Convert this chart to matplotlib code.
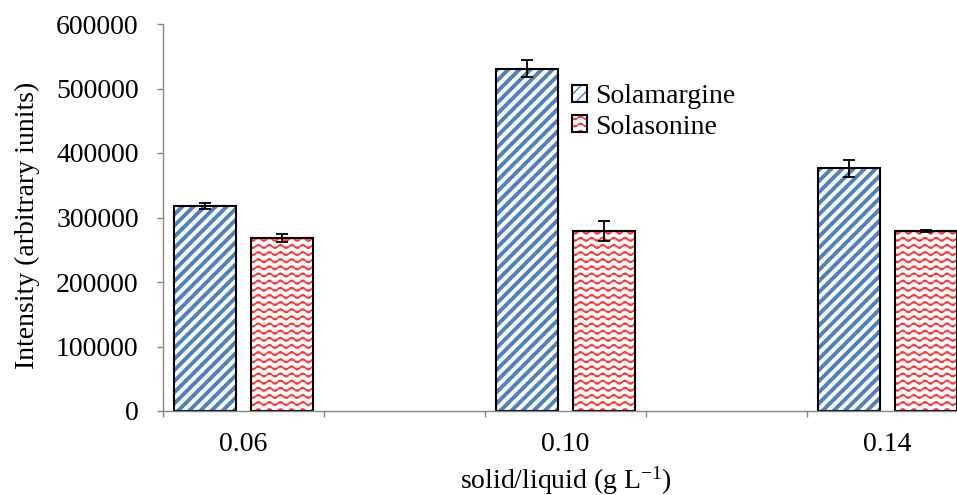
import warnings

import numpy as np
import matplotlib
matplotlib.use("Agg")
import matplotlib.pyplot as plt
from matplotlib import hatch as mhatch
from matplotlib.path import Path
from matplotlib.legend_handler import HandlerTuple

warnings.filterwarnings("ignore")

# data
conc = np.array([0.06, 0.10, 0.14])
conc_labels = ["0.06", "0.10", "0.14"]
solamargine = np.array([318000, 531000, 376000])
solamargine_err = np.array([4500, 13000, 13000])
solasonine = np.array([268500, 279000, 279000])
solasonine_err = np.array([6000, 16000, 2000])


class ExcelHatch(mhatch.HatchPatternBase):
    """'d' = Excel wide upward diagonal, 'w' = Excel wave pattern."""

    def __init__(self, hatch, density):
        self.diag = "d" in hatch
        self.wave = "w" in hatch
        self.n_diag = 9
        self.n_rows = 14
        self.n_waves = 9
        self.n_pts = self.n_waves * 8 + 1
        self.num_vertices = 0
        if self.diag:
            self.num_vertices += 2 * (2 * self.n_diag + 1)
        if self.wave:
            self.num_vertices += self.n_rows * self.n_pts

    def set_vertices_and_codes(self, vertices, codes):
        i = 0
        if self.diag:
            for k in range(-self.n_diag, self.n_diag + 1):
                c = k / self.n_diag
                vertices[i] = (0.0, c)
                vertices[i + 1] = (1.0, 1.0 + c)
                codes[i] = Path.MOVETO
                codes[i + 1] = Path.LINETO
                i += 2
        if self.wave:
            x = np.linspace(0, 1, self.n_pts)
            for r in range(self.n_rows):
                y = (r + 0.5) / self.n_rows + 0.018 * np.sin(2 * np.pi * self.n_waves * x)
                vertices[i:i + self.n_pts, 0] = x
                vertices[i:i + self.n_pts, 1] = y
                codes[i] = Path.MOVETO
                codes[i + 1:i + self.n_pts] = Path.LINETO
                i += self.n_pts


mhatch._hatch_types.append(ExcelHatch)

plt.rcParams["font.family"] = "Liberation Serif"
plt.rcParams["mathtext.fontset"] = "custom"
plt.rcParams["mathtext.rm"] = "Liberation Serif"
plt.rcParams["mathtext.it"] = "Liberation Serif:italic"
plt.rcParams["font.size"] = 20

blue = "#4f81bd"
red = "#ff3838"
gray = "#868686"

fig = plt.figure(figsize=(9.57, 4.95), dpi=100)
ax = fig.add_axes([163 / 957, 84 / 495, 805 / 957, 387 / 495])

w = 0.0077
off = 0.00484
err_kw = dict(ecolor="black", elinewidth=1.3, capthick=1.3)


def hatched(xs, ys, color, pattern, lw):
    bars = ax.bar(xs, ys, w, color="white", edgecolor=color, hatch=pattern, linewidth=0)
    for p in bars:
        if hasattr(p, "set_hatch_linewidth"):
            p.set_hatch_linewidth(lw)
    return bars


with plt.rc_context({"hatch.linewidth": 2.8}):
    h1 = hatched(conc - off, solamargine, blue, "d", 2.8)
with plt.rc_context({"hatch.linewidth": 1.2}):
    h2 = hatched(conc + off, solasonine, red, "w", 1.2)

o1 = ax.bar(conc - off, solamargine, w, fill=False, edgecolor="black", linewidth=1.5,
            yerr=solamargine_err, capsize=4, error_kw=err_kw)
o2 = ax.bar(conc + off, solasonine, w, fill=False, edgecolor="black", linewidth=1.5,
            yerr=solasonine_err, capsize=4, error_kw=err_kw)

ax.set_xlim(0.05, 0.15)
ax.set_ylim(0, 600000)
ax.set_yticks(np.arange(0, 600001, 100000))
ax.ticklabel_format(axis="y", style="plain")
ax.set_xticks(np.arange(0.05, 0.151, 0.02))
ax.set_xticklabels([])
ax.set_xticks(conc, conc_labels, minor=True)
ax.tick_params(axis="x", which="major", direction="out", length=4.5, width=1, color=gray)
ax.tick_params(axis="x", which="minor", length=0, pad=15)
ax.tick_params(axis="y", direction="out", length=4.5, width=1, color=gray, pad=13)

for s in ["top", "right"]:
    ax.spines[s].set_visible(False)
for s in ["left", "bottom"]:
    ax.spines[s].set_color(gray)
    ax.spines[s].set_linewidth(1)

ax.set_ylabel("Intensity (arbitrary iunits)")
ax.yaxis.set_label_coords(-0.153, 0.48)
ax.set_xlabel("solid/liquid (g L$^{\\mathrm{-1}}$)")
ax.xaxis.set_label_coords(0.5, -0.137)

ax.legend([(h1, o1), (h2, o2)], ["Solamargine", "Solasonine"],
          handler_map={tuple: HandlerTuple(ndivide=1)},
          loc="upper left", bbox_to_anchor=(572 / 957, 411 / 495),
          bbox_transform=fig.transFigure, frameon=False, borderpad=0,
          borderaxespad=0, handlelength=0.55, handleheight=0.55,
          handletextpad=0.3, labelspacing=0.2)

fig.savefig("out.png", dpi=100)
